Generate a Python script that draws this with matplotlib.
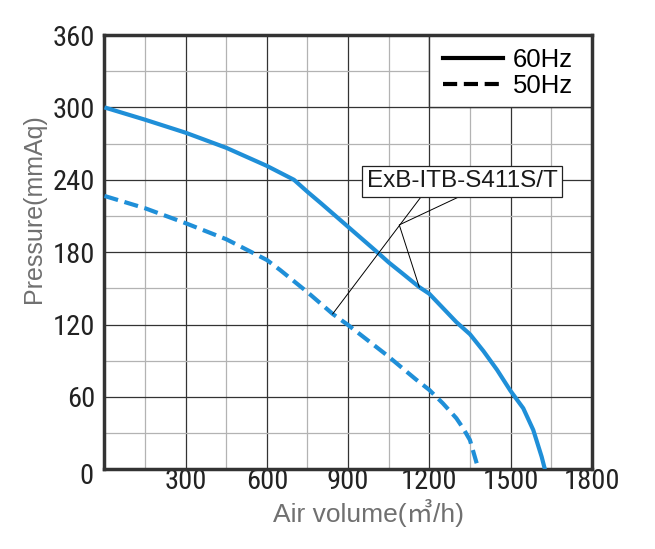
import matplotlib
matplotlib.use('Agg')
import matplotlib.pyplot as plt
from matplotlib.lines import Line2D
from matplotlib.patches import Rectangle
from matplotlib.ticker import MultipleLocator

# 곡선 데이터
air_60 = [0, 150, 300, 450, 600, 700, 750, 800, 900, 1000, 1050, 1100, 1163, 1200,
          1300, 1350, 1400, 1450, 1500, 1547, 1584, 1615, 1627]
pres_60 = [300, 289.8, 279, 266.5, 251.5, 240, 230, 220.5, 201, 181.5, 171.5, 162.5, 151, 145.5,
           122, 112, 98, 82.5, 65, 50.6, 32.6, 10.4, 0]

air_50 = [0, 150, 300, 450, 600, 650, 750, 843, 900, 1042, 1150, 1200,
          1250, 1300, 1325, 1350, 1375]
pres_50 = [226.6, 216.4, 204, 190.7, 173.5, 165, 146.8, 128.8, 119.6, 94.8, 74.6, 65.8,
           54.7, 42.3, 34, 24.3, 5]

x_ticks = [300, 600, 900, 1200, 1500, 1800]
y_ticks = [60, 120, 180, 240, 300, 360]

model_name = 'ExB-ITB-S411S/T'
# 모델명 지시선
leader_a_x = [1170, 843]
leader_a_y = [226, 128.8]
leader_b_x = [1311, 1089, 1163]
leader_b_y = [226, 202.6, 151]

blue = '#1f8fd8'
narrow = ['Liberation Sans Narrow', 'Roboto Condensed', 'DejaVu Sans Condensed',
          'Liberation Sans', 'DejaVu Sans']
regular = ['Liberation Sans', 'DejaVu Sans']

fig = plt.figure(figsize=(6.55, 5.49), dpi=100)
ax = fig.add_axes([0.1595, 0.1452, 0.7439, 0.791])

ax.plot(air_60, pres_60, color=blue, lw=3, solid_capstyle='butt', zorder=3)
ax.plot(air_50, pres_50, color=blue, lw=3, linestyle=(0, (3.4, 1.6)), zorder=3)

ax.set_xlim(0, 1800)
ax.set_ylim(0, 360)
ax.set_xticks(x_ticks)
ax.set_yticks(y_ticks)
ax.xaxis.set_minor_locator(MultipleLocator(150))
ax.yaxis.set_minor_locator(MultipleLocator(30))

ax.grid(which='major', color='#333333', lw=0.9)
ax.grid(which='minor', color='#b3b3b3', lw=0.9)
ax.set_axisbelow(True)

ax.tick_params(which='both', length=0)
ax.tick_params(axis='x', pad=-1)
ax.tick_params(axis='y', pad=6.5)
for lab in ax.get_xticklabels() + ax.get_yticklabels():
    lab.set_fontfamily(narrow)
    lab.set_fontstretch('condensed')
    lab.set_fontsize(20.5)
    lab.set_color('#222222')

# 원점 0
ax.annotate('0', xy=(0, 0), xytext=(-8, -5.5), textcoords='offset points',
            ha='right', va='center', fontsize=20.5, family=narrow,
            fontstretch='condensed', color='#222222')

for sp in ax.spines.values():
    sp.set_linewidth(2.5)
    sp.set_color('#333333')

ax.set_xlabel('Air volume(㎥/h)', fontsize=19, color='#707070',
              family=['Liberation Sans', 'Noto Sans CJK JP', 'DejaVu Sans'], va='center')
ax.xaxis.set_label_coords(0.5415, -0.1006)
ax.set_ylabel('Pressure(mmAq)', fontsize=18, color='#707070', family=regular,
              va='center')
ax.yaxis.set_label_coords(-0.1437, 0.5994)

# 범례
ax.add_patch(Rectangle((2 / 3, 5 / 6), 1 / 3, 1 / 6, transform=ax.transAxes,
                       facecolor='white', edgecolor='#333333', lw=1.0, zorder=2))
handles = [Line2D([], [], color='black', lw=3),
           Line2D([], [], color='black', lw=3, linestyle=(0, (3.4, 1.6)))]
leg = ax.legend(handles, ['60Hz', '50Hz'], loc='center left',
                bbox_to_anchor=(0.6942, 0.9125), frameon=False, borderpad=0,
                borderaxespad=0, handlelength=2.33, handletextpad=0.39,
                labelspacing=0.07, prop={'family': regular, 'size': 18.5})
leg.set_zorder(4)

# 모델명 라벨
ax.plot(leader_a_x, leader_a_y, color='black', lw=0.7, zorder=4)
ax.plot(leader_b_x, leader_b_y, color='black', lw=0.7, zorder=4)
ax.text(1320.7, 238.6, model_name, ha='center', va='center', fontsize=17.5,
        family=regular, color='#1a1a1a', zorder=5,
        bbox=dict(boxstyle='square,pad=0.2', fc='white', ec='#222222', lw=0.9))

fig.savefig('out.png', dpi=100)
